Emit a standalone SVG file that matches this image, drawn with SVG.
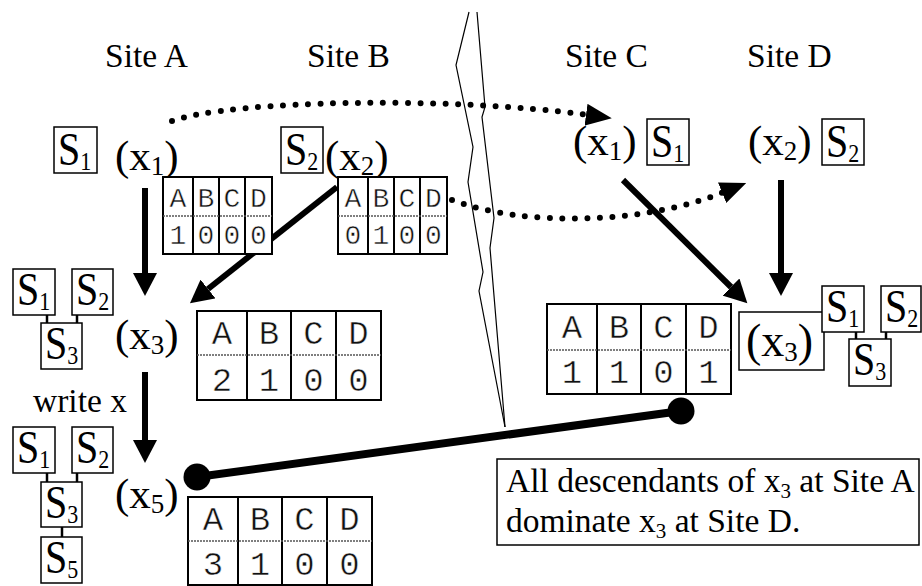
<svg xmlns="http://www.w3.org/2000/svg" width="922" height="586" viewBox="0 0 922 586">
  <defs>
    <style>
      text { font-family: "Liberation Serif", "Times New Roman", serif; fill: #000; }
      .site { font-size: 33.5px; }
      .lbl { font-size: 43px; }
      .big { font-size: 46px; }
      .sub { font-size: 27px; }
      .s { font-size: 40px; }
      .ssub { font-size: 22px; }
      .note { font-size: 33.5px; }
      .nsub { font-size: 21px; }
      .box { fill: #fff; stroke: #000; stroke-width: 1.5; }
      .tick { stroke: #000; stroke-width: 2.5; }
      .cell { fill: #fff; stroke: #000; stroke-width: 2; }
      .grid { stroke: #000; stroke-width: 2; }
      .div { stroke: #555; stroke-width: 1.5; stroke-dasharray: 2 1; }
      .mono { font-family: "Liberation Mono", "Courier New", monospace; fill: #111; stroke: #fff; stroke-width: 0.5; text-anchor: middle; }
      .m34 { font-size: 34px; }
      .m28 { font-size: 28px; }
      .solid { stroke: #000; stroke-width: 6; fill: none; }
      .dots { stroke: #000; stroke-width: 6; fill: none; stroke-linecap: round; stroke-dasharray: 0 12.5; }
      .brk { stroke: #000; stroke-width: 1.2; fill: none; }
    </style>
    <marker id="head" markerUnits="userSpaceOnUse" markerWidth="24" markerHeight="24" viewBox="0 0 24 24" refX="0" refY="12" orient="auto">
      <path d="M0,0 L23,12 L0,24 z" fill="#000"/>
    </marker>
    <marker id="headDot" markerUnits="userSpaceOnUse" markerWidth="26" markerHeight="22" viewBox="0 0 26 22" refX="2" refY="11" orient="auto">
      <path d="M0,0 L26,11 L0,22 z" fill="#000"/>
    </marker>
  </defs>

  <rect width="922" height="586" fill="#fff"/>

  <!-- site headings -->
  <g id="sites">
    <text class="site" x="105" y="67">Site A</text>
    <text class="site" x="307" y="67">Site B</text>
    <text class="site" x="565" y="67">Site C</text>
    <text class="site" x="747" y="67">Site D</text>
  </g>

  <!-- break between the two halves -->
  <g id="break">
    <polyline class="brk" points="469,12 456,65 473,147 468,182 483,272 479,291 505,427"/>
    <polyline class="brk" points="477,12 485,107 482,117 494,218 490,248 505,427"/>
  </g>

  <!-- connectors -->
  <g id="connectors">
    <path class="dots" d="M172,121 C230,100 450,96 588,115" marker-end="url(#headDot)"/>
    <path class="dots" d="M452,200 C520,226 640,226 724,192" marker-end="url(#headDot)"/>
    <line class="solid" x1="145" y1="188" x2="145" y2="273" marker-end="url(#head)"/>
    <line class="solid" x1="337" y1="187" x2="208" y2="289" marker-end="url(#head)"/>
    <line class="solid" x1="145" y1="372" x2="145" y2="440" marker-end="url(#head)"/>
    <line class="solid" x1="623" y1="180" x2="731" y2="287" marker-end="url(#head)"/>
    <line class="solid" x1="781" y1="180" x2="781" y2="273" marker-end="url(#head)"/>
    <line x1="197" y1="477" x2="681" y2="411" stroke="#000" stroke-width="8"/>
    <circle cx="197" cy="477" r="13.5" fill="#000"/>
    <circle cx="681" cy="411" r="13.5" fill="#000"/>
  </g>

  <!-- Site A: x1 -->
  <g id="a-x1">
    <rect class="box" x="54" y="127" width="43" height="46"/>
    <text class="s" transform="translate(58,165) scale(1,1.15)">S<tspan class="ssub" dy="4">1</tspan></text>
    <text class="lbl" x="115" y="170">(x<tspan class="sub" dy="5">1</tspan><tspan dy="-5">)</tspan></text>
  </g>

  <!-- Site B: x2 -->
  <g id="b-x2">
    <rect class="box" x="281" y="127" width="42" height="46"/>
    <text class="s" transform="translate(285,165) scale(1,1.15)">S<tspan class="ssub" dy="4">2</tspan></text>
    <text class="lbl" x="325" y="170">(x<tspan class="sub" dy="5">2</tspan><tspan dy="-5">)</tspan></text>
  </g>

  <!-- version vector of x1 -->
  <g id="vv-x1">
    <rect class="cell" x="163" y="177" width="109" height="77"/>
    <line class="grid" x1="193" y1="177" x2="193" y2="254"/>
    <line class="grid" x1="219" y1="177" x2="219" y2="254"/>
    <line class="grid" x1="245" y1="177" x2="245" y2="254"/>
    <line class="div" x1="163" y1="216" x2="272" y2="216"/>
    <text class="mono m28" x="178" y="207">A</text>
    <text class="mono m28" x="206" y="207">B</text>
    <text class="mono m28" x="232" y="207">C</text>
    <text class="mono m28" x="258.5" y="207">D</text>
    <text class="mono m28" x="178" y="244">1</text>
    <text class="mono m28" x="206" y="244">0</text>
    <text class="mono m28" x="232" y="244">0</text>
    <text class="mono m28" x="258.5" y="244">0</text>
  </g>

  <!-- version vector of x2 -->
  <g id="vv-x2">
    <rect class="cell" x="338" y="177" width="109" height="77"/>
    <line class="grid" x1="368" y1="177" x2="368" y2="254"/>
    <line class="grid" x1="394" y1="177" x2="394" y2="254"/>
    <line class="grid" x1="420" y1="177" x2="420" y2="254"/>
    <line class="div" x1="338" y1="216" x2="447" y2="216"/>
    <text class="mono m28" x="353" y="207">A</text>
    <text class="mono m28" x="381" y="207">B</text>
    <text class="mono m28" x="407" y="207">C</text>
    <text class="mono m28" x="433.5" y="207">D</text>
    <text class="mono m28" x="353" y="244">0</text>
    <text class="mono m28" x="381" y="244">1</text>
    <text class="mono m28" x="407" y="244">0</text>
    <text class="mono m28" x="433.5" y="244">0</text>
  </g>

  <!-- Site A: x3 with its history -->
  <g id="a-x3">
    <line class="tick" x1="47" y1="315" x2="47" y2="323"/>
    <line class="tick" x1="77" y1="315" x2="77" y2="323"/>
    <rect class="box" x="13" y="269" width="42" height="46"/>
    <text class="s" transform="translate(17,305) scale(1,1.15)">S<tspan class="ssub" dy="4">1</tspan></text>
    <rect class="box" x="72" y="269" width="41" height="46"/>
    <text class="s" transform="translate(76,305) scale(1,1.15)">S<tspan class="ssub" dy="4">2</tspan></text>
    <rect class="box" x="41" y="323" width="41" height="46"/>
    <text class="s" transform="translate(45,359) scale(1,1.15)">S<tspan class="ssub" dy="4">3</tspan></text>
    <text class="lbl" x="115" y="349">(x<tspan class="sub" dy="5">3</tspan><tspan dy="-5">)</tspan></text>
  </g>

  <g id="vv-a-x3">
    <rect class="cell" x="197" y="311" width="184" height="89"/>
    <line class="grid" x1="247" y1="311" x2="247" y2="400"/>
    <line class="grid" x1="291" y1="311" x2="291" y2="400"/>
    <line class="grid" x1="336" y1="311" x2="336" y2="400"/>
    <line class="div" x1="197" y1="355" x2="381" y2="355"/>
    <text class="mono m34" x="222" y="344">A</text>
    <text class="mono m34" x="269" y="344">B</text>
    <text class="mono m34" x="313.5" y="344">C</text>
    <text class="mono m34" x="358.5" y="344">D</text>
    <text class="mono m34" x="222" y="391">2</text>
    <text class="mono m34" x="269" y="391">1</text>
    <text class="mono m34" x="313.5" y="391">0</text>
    <text class="mono m34" x="358.5" y="391">0</text>
  </g>

  <g id="write-label">
    <text class="site" x="33" y="412">write x</text>
  </g>

  <!-- Site A: x5 with its history -->
  <g id="a-x5">
    <line class="tick" x1="47" y1="473" x2="47" y2="482"/>
    <line class="tick" x1="77" y1="473" x2="77" y2="482"/>
    <line class="tick" x1="62" y1="527" x2="62" y2="537"/>
    <rect class="box" x="13" y="427" width="42" height="46"/>
    <text class="s" transform="translate(17,463) scale(1,1.15)">S<tspan class="ssub" dy="4">1</tspan></text>
    <rect class="box" x="72" y="427" width="41" height="46"/>
    <text class="s" transform="translate(76,463) scale(1,1.15)">S<tspan class="ssub" dy="4">2</tspan></text>
    <rect class="box" x="41" y="482" width="41" height="45"/>
    <text class="s" transform="translate(45,518) scale(1,1.15)">S<tspan class="ssub" dy="4">3</tspan></text>
    <rect class="box" x="41" y="537" width="41" height="46"/>
    <text class="s" transform="translate(45,573) scale(1,1.15)">S<tspan class="ssub" dy="4">5</tspan></text>
    <text class="lbl" x="115" y="508">(x<tspan class="sub" dy="5">5</tspan><tspan dy="-5">)</tspan></text>
  </g>

  <g id="vv-a-x5">
    <rect class="cell" x="188" y="497" width="184" height="88"/>
    <line class="grid" x1="238" y1="497" x2="238" y2="585"/>
    <line class="grid" x1="282" y1="497" x2="282" y2="585"/>
    <line class="grid" x1="327" y1="497" x2="327" y2="585"/>
    <line class="div" x1="188" y1="541" x2="372" y2="541"/>
    <text class="mono m34" x="213" y="530">A</text>
    <text class="mono m34" x="260" y="530">B</text>
    <text class="mono m34" x="304.5" y="530">C</text>
    <text class="mono m34" x="349.5" y="530">D</text>
    <text class="mono m34" x="213" y="575">3</text>
    <text class="mono m34" x="260" y="575">1</text>
    <text class="mono m34" x="304.5" y="575">0</text>
    <text class="mono m34" x="349.5" y="575">0</text>
  </g>

  <!-- Site C: x1 -->
  <g id="c-x1">
    <text class="lbl" x="573" y="155">(x<tspan class="sub" dy="5">1</tspan><tspan dy="-5">)</tspan></text>
    <rect class="box" x="647" y="119" width="42" height="46"/>
    <text class="s" transform="translate(651,157) scale(1,1.15)">S<tspan class="ssub" dy="4">1</tspan></text>
  </g>

  <!-- Site D: x2 -->
  <g id="d-x2">
    <text class="lbl" x="748" y="155">(x<tspan class="sub" dy="5">2</tspan><tspan dy="-5">)</tspan></text>
    <rect class="box" x="822" y="119" width="42" height="46"/>
    <text class="s" transform="translate(826,157) scale(1,1.15)">S<tspan class="ssub" dy="4">2</tspan></text>
  </g>

  <g id="vv-d-x3">
    <rect class="cell" x="547" y="304" width="184" height="90"/>
    <line class="grid" x1="597" y1="304" x2="597" y2="394"/>
    <line class="grid" x1="641" y1="304" x2="641" y2="394"/>
    <line class="grid" x1="686" y1="304" x2="686" y2="394"/>
    <line class="div" x1="547" y1="350" x2="731" y2="350"/>
    <text class="mono m34" x="572" y="338">A</text>
    <text class="mono m34" x="619" y="338">B</text>
    <text class="mono m34" x="663.5" y="338">C</text>
    <text class="mono m34" x="708.5" y="338">D</text>
    <text class="mono m34" x="572" y="383">1</text>
    <text class="mono m34" x="619" y="383">1</text>
    <text class="mono m34" x="663.5" y="383">0</text>
    <text class="mono m34" x="708.5" y="383">1</text>
  </g>

  <!-- Site D: merged x3 with its history -->
  <g id="d-x3">
    <rect class="box" x="739" y="312" width="85" height="58"/>
    <text class="big" x="746" y="356">(x<tspan class="sub" dy="5">3</tspan><tspan dy="-5">)</tspan></text>
    <line class="tick" x1="856" y1="332" x2="856" y2="339"/>
    <line class="tick" x1="886" y1="332" x2="886" y2="339"/>
    <rect class="box" x="822" y="286" width="42" height="46"/>
    <text class="s" transform="translate(826,322) scale(1,1.15)">S<tspan class="ssub" dy="4">1</tspan></text>
    <rect class="box" x="881" y="286" width="40" height="46"/>
    <text class="s" transform="translate(885,322) scale(1,1.15)">S<tspan class="ssub" dy="4">2</tspan></text>
    <rect class="box" x="849" y="339" width="42" height="47"/>
    <text class="s" transform="translate(853,375) scale(1,1.15)">S<tspan class="ssub" dy="4">3</tspan></text>
  </g>

  <!-- explanatory note -->
  <g id="note">
    <rect class="box" x="497" y="459" width="422" height="86"/>
    <text class="note" x="506" y="492">All descendants of x<tspan class="nsub" dy="6">3</tspan><tspan dy="-6"> at Site A</tspan></text>
    <text class="note" x="506" y="532">dominate x<tspan class="nsub" dy="6">3</tspan><tspan dy="-6"> at Site D.</tspan></text>
  </g>
</svg>
